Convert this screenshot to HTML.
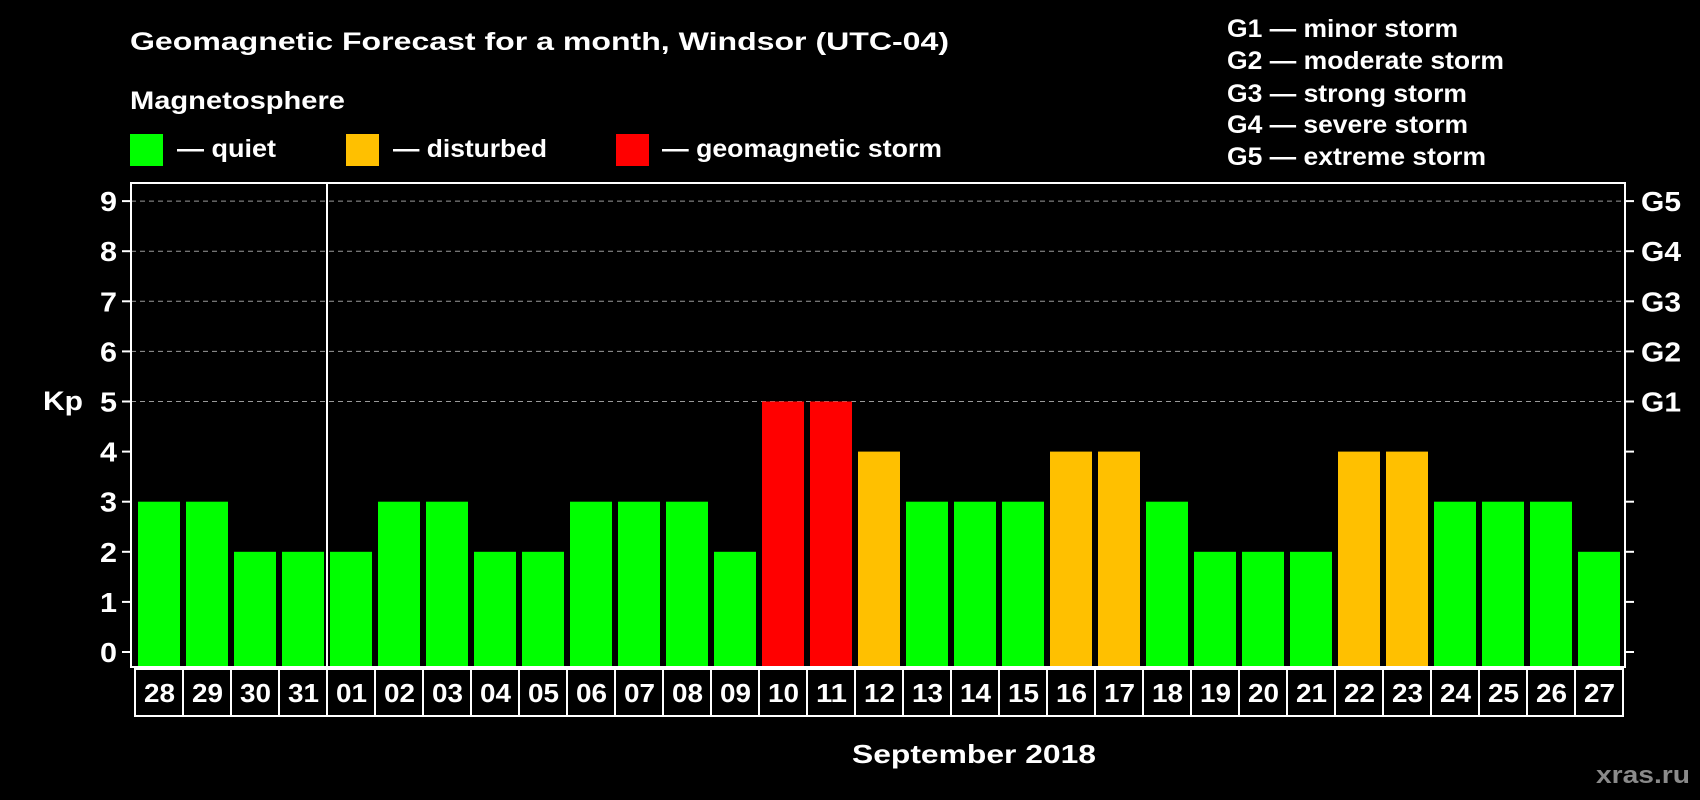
<!DOCTYPE html>
<html><head><meta charset="utf-8"><style>
body{margin:0;background:#000;width:1700px;height:800px;overflow:hidden}
svg{display:block}
text{font-family:"Liberation Sans",Arial,sans-serif;font-weight:bold;fill:#fff}
</style></head><body>
<svg id="c" width="1700" height="800">
<text x="130" y="50" font-size="25" textLength="819" lengthAdjust="spacingAndGlyphs">Geomagnetic Forecast for a month, Windsor (UTC-04)</text>
<text x="130" y="109" font-size="25" textLength="215" lengthAdjust="spacingAndGlyphs">Magnetosphere</text>
<rect x="130" y="134" width="33" height="32" fill="#00ff00"/>
<text x="177" y="157" font-size="25" textLength="99" lengthAdjust="spacingAndGlyphs">— quiet</text>
<rect x="346" y="134" width="33" height="32" fill="#ffc000"/>
<text x="393" y="157" font-size="25" textLength="154" lengthAdjust="spacingAndGlyphs">— disturbed</text>
<rect x="616" y="134" width="33" height="32" fill="#ff0000"/>
<text x="662" y="157" font-size="25" textLength="280" lengthAdjust="spacingAndGlyphs">— geomagnetic storm</text>
<g font-size="25">
<text x="1227" y="37" textLength="231" lengthAdjust="spacingAndGlyphs">G1 — minor storm</text>
<text x="1227" y="69" textLength="277" lengthAdjust="spacingAndGlyphs">G2 — moderate storm</text>
<text x="1227" y="102" textLength="240" lengthAdjust="spacingAndGlyphs">G3 — strong storm</text>
<text x="1227" y="133" textLength="241" lengthAdjust="spacingAndGlyphs">G4 — severe storm</text>
<text x="1227" y="165" textLength="259" lengthAdjust="spacingAndGlyphs">G5 — extreme storm</text>
</g>
<text x="43" y="410" font-size="27" textLength="40" lengthAdjust="spacingAndGlyphs">Kp</text>
<text x="852" y="763" font-size="26" textLength="244" lengthAdjust="spacingAndGlyphs">September 2018</text>
<text x="1596" y="783" font-size="24" textLength="94" lengthAdjust="spacingAndGlyphs" style="fill:#8a8a8a">xras.ru</text>
<g id="plot"></g>
</svg>
<script>
const days=["28","29","30","31","01","02","03","04","05","06","07","08","09","10","11","12","13","14","15","16","17","18","19","20","21","22","23","24","25","26","27"];
const kp=[3,3,2,2,2,3,3,2,2,3,3,3,2,5,5,4,3,3,3,4,4,3,2,2,2,4,4,3,3,3,2];
const yTicks=[0,1,2,3,4,5,6,7,8,9];
const gLabels=["G1","G2","G3","G4","G5"];
const gLevels=[5,6,7,8,9];
const NS="http://www.w3.org/2000/svg";
const g=document.getElementById('plot');
const L=131,R=1625,T=183,B=667,Y0=652,UNIT=50.1,X0=138,STEP=48,BW=42;
const y=v=>Y0-v*UNIT;
const x=i=>X0+i*STEP;
function mk(tag,a){const e=document.createElementNS(NS,tag);for(const k in a)e.setAttribute(k,a[k]);g.appendChild(e);return e;}
yTicks.forEach(v=>{
  if(v>=5){const l=mk('line',{x1:L,x2:R,y1:y(v),y2:y(v),stroke:'#9a9a9a','stroke-dasharray':'5,4','stroke-width':1});
  
  }
  const t=mk('line',{x1:122,x2:L,y1:y(v),y2:y(v),stroke:'#fff','stroke-width':2});
  
  
  const t2=mk('line',{x1:R,x2:1634,y1:y(v),y2:y(v),stroke:'#fff','stroke-width':2});
  
  
  const tx=mk('text',{x:100,y:y(v)+10,'font-size':28,textLength:17,lengthAdjust:'spacingAndGlyphs'});tx.textContent=v;
  
  
});
gLabels.forEach((s,i)=>{
  const tx=mk('text',{x:1641,y:y(gLevels[i])+10,'font-size':28,textLength:40,lengthAdjust:'spacingAndGlyphs'});tx.textContent=s;
  
  
});
kp.forEach((v,i)=>{
  const c=v>=5?'#ff0000':(v>=4?'#ffc000':'#00ff00');
  const r=mk('rect',{x:x(i),y:y(v),width:BW,height:B-y(v),fill:c});
  
  
});
const fr=mk('rect',{x:L,y:T,width:R-L,height:B-T,fill:'none',stroke:'#fff','stroke-width':2});


const sep=mk('line',{x1:327,x2:327,y1:T,y2:B,stroke:'#fff','stroke-width':2});


days.forEach((d,i)=>{
  const bx=x(i)-3;
  const r=mk('rect',{x:bx,y:669,width:STEP,height:47,fill:'none',stroke:'#fff','stroke-width':2});
  
  
  const t=mk('text',{x:bx+9,y:702,'font-size':26,textLength:31,lengthAdjust:'spacingAndGlyphs'});t.textContent=d;
  
  
});
</script>
</body></html>
